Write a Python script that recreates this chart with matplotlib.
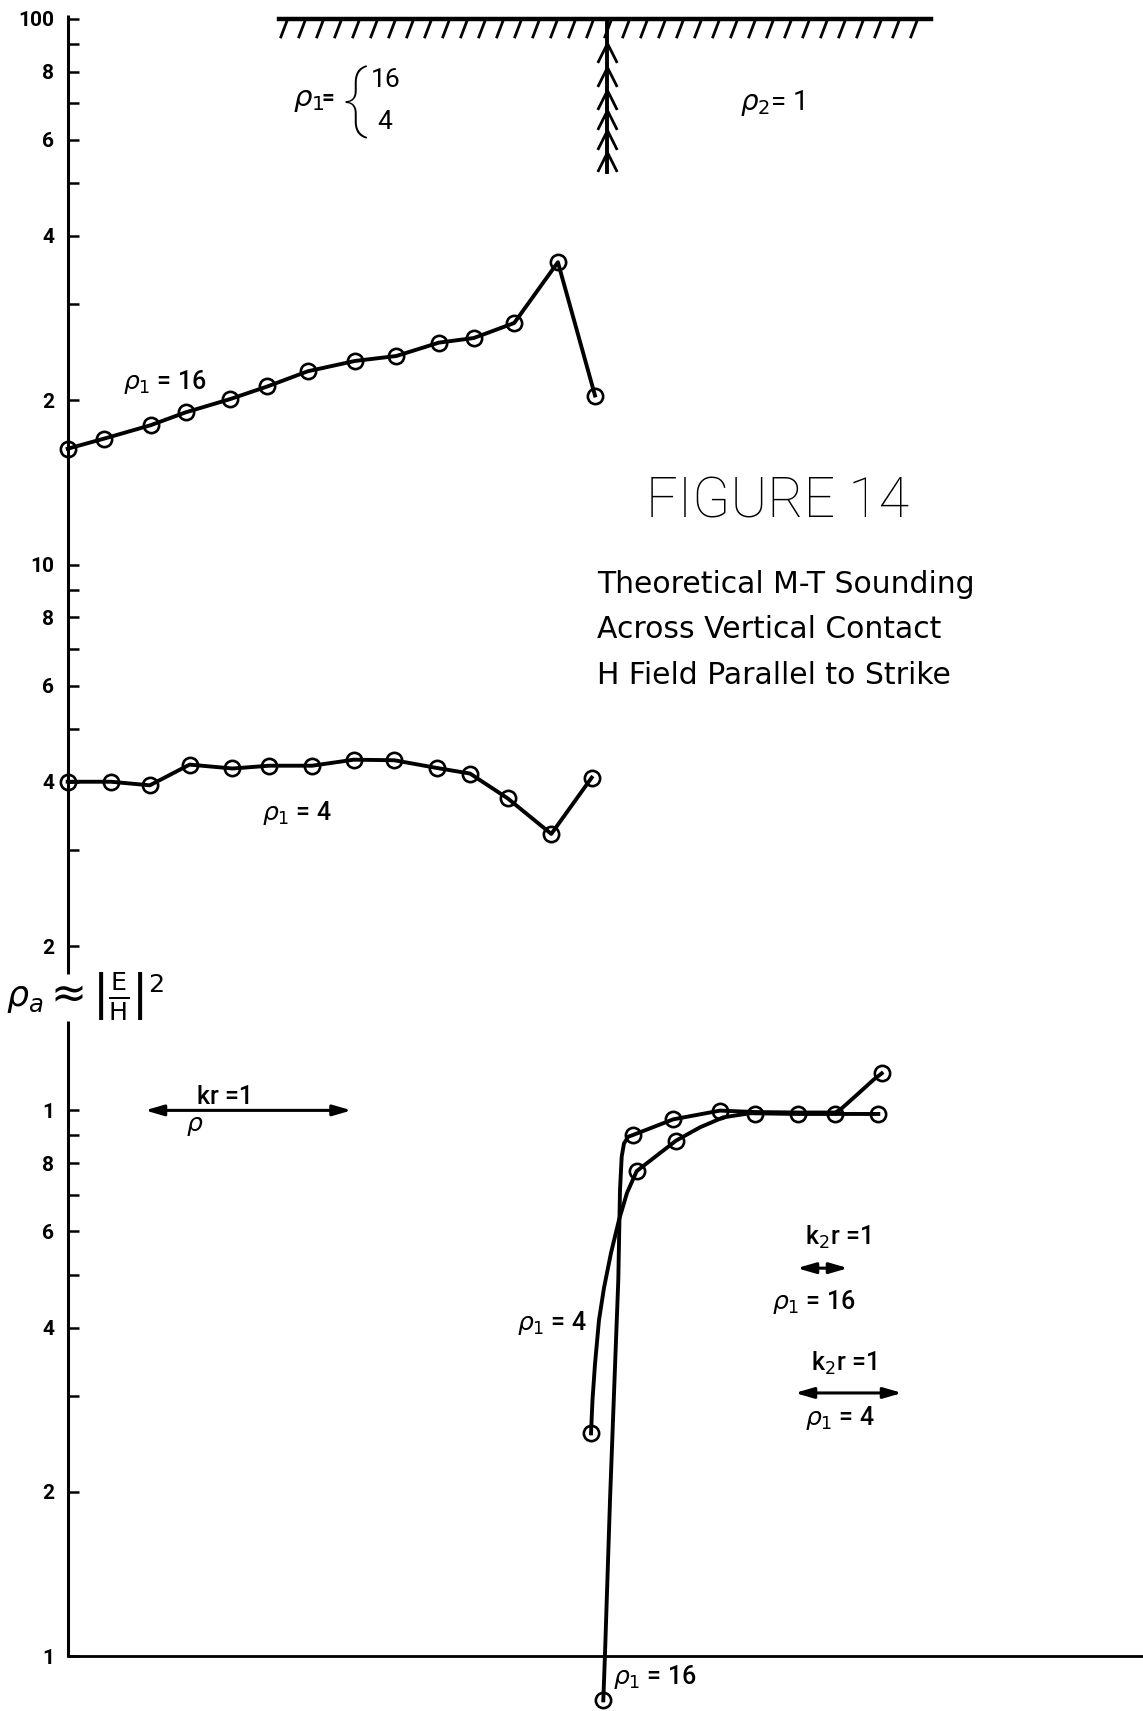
import numpy as np
import matplotlib
matplotlib.use('Agg')
import matplotlib.pyplot as plt
from matplotlib.path import Path
from matplotlib.ticker import NullFormatter

plt.rcParams['font.family'] = ['Roboto', 'DejaVu Sans']
plt.rcParams['mathtext.fontset'] = 'dejavusans'

# x = distance from the contact (arbitrary units), y = apparent resistivity
# rho1 = 16, left of the contact (top decade)
x16 = [-5.393, -5.033, -4.563, -4.214, -3.767, -3.395, -2.991, -2.522, -2.107, -1.681, -1.332, -0.928, -0.491, -0.120]
v16 = [16.3, 17.0, 18.0, 19.0, 20.1, 21.2, 22.6, 23.6, 24.1, 25.5, 26.0, 27.7, 35.8, 20.4]

# rho1 = 4, left of the contact (middle decade)
x4 = [-5.393, -4.959, -4.572, -4.174, -3.745, -3.377, -2.948, -2.533, -2.129, -1.703, -1.369, -0.994, -0.557, -0.153]
v4 = [4.0, 4.0, 3.94, 4.30, 4.23, 4.28, 4.28, 4.39, 4.38, 4.24, 4.14, 3.73, 3.21, 4.07]

r16_line_x = [-0.037, -0.02, 0.03, 0.08, 0.113, 0.13, 0.147, 0.17, 0.213, 0.257, 0.663, 1.13, 1.48, 1.913, 2.28, 2.33, 2.497, 2.663, 2.747]
r16_line_v = [0.083, 0.101, 0.193, 0.339, 0.489, 0.715, 0.823, 0.870, 0.895, 0.901, 0.963, 0.999, 0.993, 0.991, 0.991, 1.002, 1.067, 1.137, 1.169]
r16_pts_x = [-0.037, 0.257, 0.663, 1.13, 2.747]
r16_pts_v = [0.083, 0.901, 0.963, 0.999, 1.169]

r4_line_x = [-0.160, -0.145, -0.12, -0.08, -0.03, 0.04, 0.12, 0.20, 0.297, 0.69, 0.93, 1.163, 1.43, 1.913, 2.713]
r4_line_v = [0.256, 0.295, 0.343, 0.413, 0.473, 0.548, 0.630, 0.706, 0.774, 0.880, 0.931, 0.971, 0.988, 0.985, 0.985]
r4_pts_x = [-0.160, 0.297, 0.69, 1.48, 1.913, 2.28, 2.713]
r4_pts_v = [0.256, 0.774, 0.880, 0.985, 0.985, 0.985, 0.985]

major_ticks = [0.1, 0.2, 0.4, 0.6, 0.8, 1, 2, 4, 6, 8, 10, 20, 40, 60, 80, 100]
major_labels = ['1', '2', '4', '6', '8', '1', '2', '4', '6', '8', '10', '2', '4', '6', '8', '100']
minor_ticks = [0.3, 0.5, 0.7, 0.9, 3, 5, 7, 9, 30, 50, 70, 90]

# sketch of the contact
surface_x = [-3.275, 3.24]
contact_top, contact_bottom = 100, 52.4
chevron_v = [90.2, 81.5, 74.0, 68.0, 62.5, 56.9]

fig = plt.figure(figsize=(11.43, 17.11), dpi=100)
ax = fig.add_axes([0, 0, 1, 1])
ax.set_yscale('log')
ax.set_xlim(-6.07, 5.36)
ax.set_ylim(0.07937, 108.2)
ax.patch.set_visible(False)

axis_x = -5.39
for s in ['top', 'right', 'bottom']:
    ax.spines[s].set_visible(False)
ax.spines['left'].set_position(('data', axis_x))
ax.spines['left'].set_visible(False)
ax.xaxis.set_visible(False)

ax.set_yticks(major_ticks, major_labels, fontsize=15, fontweight='bold')
ax.set_yticks(minor_ticks, minor=True)
ax.yaxis.set_minor_formatter(NullFormatter())
ax.tick_params(axis='y', which='both', direction='in', length=8, width=1.8, pad=10)

# y axis drawn in two pieces, broken by the axis label
ax.plot([axis_x, axis_x], [0.1, 1.46], color='black', lw=2.2, solid_capstyle='butt')
ax.plot([axis_x, axis_x], [1.78, 101.7], color='black', lw=2.2, solid_capstyle='butt')
ax.plot([axis_x, 5.36], [0.1, 0.1], color='black', lw=2.0)

lw = 2.8
mk = dict(marker='o', ms=11, mfc='none', mec='black', mew=1.9)
ax.plot(x16, v16, color='black', lw=lw, **mk)
ax.plot(x4, v4, color='black', lw=lw, **mk)
ax.plot(r16_line_x, r16_line_v, color='black', lw=lw, clip_on=False)
ax.plot(r16_pts_x, r16_pts_v, ls='none', clip_on=False, **mk)
ax.plot(r4_line_x, r4_line_v, color='black', lw=lw)
ax.plot(r4_pts_x, r4_pts_v, ls='none', **mk)

# surface with hatching and the contact
ax.plot(surface_x, [100, 100], color='black', lw=3.2)
hatch = Path([(0, 0), (-0.38, -1)], [Path.MOVETO, Path.LINETO])
hatch_x = np.arange(-3.20, 3.25, 0.18)
ax.plot(hatch_x, [100] * len(hatch_x), ls='none', marker=hatch, ms=27, mfc='none', mec='black', mew=2.0)
ax.plot([0, 0], [contact_top, contact_bottom], color='black', lw=2.8)
chev = Path([(-0.5, -1), (0, 0), (0.5, -1)], [Path.MOVETO, Path.LINETO, Path.LINETO])
ax.plot([0] * len(chevron_v), chevron_v, ls='none', marker=chev, ms=28, mfc='none', mec='black', mew=2.0)

ax.text(-3.14, 70.9, r'$\rho_1$', fontsize=21, ha='left', va='center')
ax.text(-2.795, 71.5, '=', fontsize=16, ha='center', va='center', fontweight='bold')
ax.text(-2.53, 70.4, '{', fontsize=54, ha='center', va='center', fontweight='light')
ax.text(-2.36, 77.3, '16', fontsize=19, ha='left', va='center')
ax.text(-2.30, 64.6, '4', fontsize=19, ha='left', va='center')
ax.text(1.33, 70.05, r'$\rho_2$= 1', fontsize=20, ha='left', va='center')

txt = dict(fontsize=18, va='center', fontweight='medium')
ax.text(-4.84, 21.6, r'$\rho_1$ = 16', ha='left', **txt)
ax.text(-3.45, 3.51, r'$\rho_1$ = 4', ha='left', **txt)
ax.text(-0.555, 0.408, r'$\rho_1$ = 4', ha='center', **txt)
ax.text(0.48, 0.0916, r'$\rho_1$ = 16', ha='center', **txt)

ax.text(1.70, 13.0, 'FIGURE 14', fontsize=40, fontweight='light', ha='center', va='center')
sub = dict(fontsize=21.5, ha='left', va='center', family='DejaVu Sans')
ax.text(-0.10, 9.21, 'Theoretical M-T Sounding', **sub)
ax.text(-0.10, 7.59, 'Across Vertical Contact', **sub)
ax.text(-0.10, 6.25, 'H Field Parallel to Strike', **sub)

ax.text(-5.82, 1.60, r'$\rho_a$', fontsize=25, ha='center', va='center')
ax.text(axis_x, 1.63, '≈', fontsize=31, ha='center', va='center', family='DejaVu Sans')
ax.text(-5.15, 1.62, r'$\left|\frac{\mathrm{E}}{\mathrm{H}}\right|^2$', fontsize=26, ha='left', va='center')

arrow = dict(arrowstyle='<|-|>,head_length=1.1,head_width=0.32', color='black', lw=2.2, shrinkA=0, shrinkB=0)
ax.annotate('', xy=(-2.555, 1.0), xytext=(-4.62, 1.0), arrowprops=arrow)
ax.text(-3.82, 1.058, 'kr =1', ha='center', **txt)
ax.text(-4.12, 0.935, r'$\rho$', ha='center', **txt)

ax.annotate('', xy=(2.41, 0.514), xytext=(1.90, 0.514), arrowprops=arrow)
ax.text(2.305, 0.586, r'k$_2$r =1', ha='center', **txt)
ax.text(2.07, 0.4457, r'$\rho_1$ = 16', ha='center', **txt)

ax.annotate('', xy=(2.95, 0.3036), xytext=(1.88, 0.3036), arrowprops=arrow)
ax.text(2.365, 0.3446, r'k$_2$r =1', ha='center', **txt)
ax.text(2.33, 0.2732, r'$\rho_1$ = 4', ha='center', **txt)

fig.savefig('out.png', dpi=100, facecolor='white')
